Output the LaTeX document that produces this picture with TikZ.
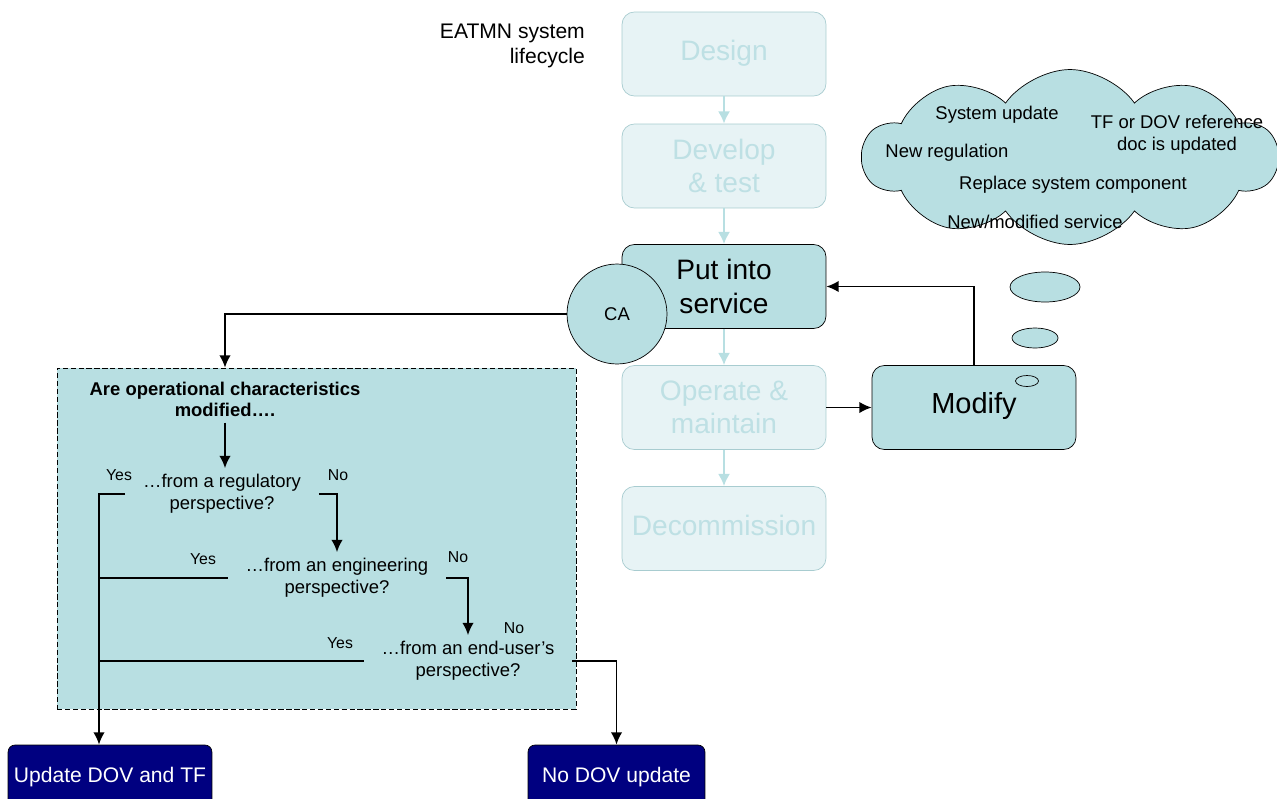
\documentclass[tikz,border=0pt]{standalone}
\usepackage{fontspec}
\setmainfont{Liberation Sans}
\usepackage{tikz}
\usetikzlibrary{shapes.geometric, arrows.meta, shapes.symbols}
\tikzstyle{phase}=[rectangle, rounded corners=7pt, draw=fadeline, fill=fadefill, text=fadetext, minimum width=4.08cm, minimum height=1.68cm, align=center, font=\fontsize{16}{19}\selectfont]
\tikzset{
  current/.style={
    phase,
    draw=black,
    fill=lightteal,
    text=black},
  outcome/.style={
    rectangle,
    rounded corners=4pt,
    draw=black,
    fill=navyblue,
    text=white,
    minimum height=1.3cm,
    font=\fontsize{12}{14}\selectfont},
  question/.style={
    align=center,
    inner xsep=10pt,
    font=\fontsize{10.5}{12.5}\selectfont},
  answer/.style={
    inner sep=1pt,
    font=\fontsize{9}{10}\selectfont},
  bubble/.style={
    ellipse,
    draw,
    fill=lightteal,
    inner sep=0pt},
  cloudtext/.style={
    align=center,
    font=\fontsize{10.5}{12.5}\selectfont},
  flow/.style={line width=1.1pt, -{Latex[length=7pt, width=6.5pt]}},
  fadeflow/.style={line width=1.4pt, draw=lightteal, -{Latex[length=7pt, width=7pt]}}
}

\begin{document}
\begin{tikzpicture}[x=0.02cm, y=-0.02cm]
  \definecolor{lightteal}{RGB}{184, 223, 226}
  \definecolor{fadefill}{RGB}{231, 243, 245}
  \definecolor{fadeline}{RGB}{168, 204, 208}
  \definecolor{fadetext}{RGB}{190, 224, 228}
  \definecolor{navyblue}{RGB}{0, 0, 128}

  \useasboundingbox (0,0) rectangle (1277,798);

  % Lifecycle column
  \node (title) [anchor=east, align=right, font=\fontsize{12}{14.7}\selectfont] at (591,46) {EATMN system\\lifecycle};
  \node (design) [phase] at (724,54) {\strut Design};
  \node (develop) [phase] at (724,166) {Develop\\\& test};
  \node (put) [current] at (724,286.5) {Put into\\service};
  \node (operate) [phase] at (724,407.5) {Operate \&\\maintain};
  \node (decom) [phase] at (724,528.5) {\strut Decommission};

  \draw[fadeflow] (design) -- (develop);
  \draw[fadeflow] (develop) -- (put);
  \draw[fadeflow] (put) -- (operate);
  \draw[fadeflow] (operate) -- (decom);

  % CA
  \node (ca) [circle, draw, fill=lightteal, minimum size=2cm, inner sep=0pt, font=\fontsize{10.5}{12}\selectfont] at (617,314) {CA};

  % Modify loop
  \node (modify) [current, font=\fontsize{16.5}{18}\selectfont] at (974,407.5) {\strut Modify};
  \draw[flow] (operate) -- (modify);
  \draw[flow] (modify.north) |- (put.east);

  % Triggers
  \node (cloud) [cloud, cloud puffs=10, cloud puff arc=110, draw, fill=lightteal, minimum width=8.3cm, minimum height=3.5cm] at (1070,157) {};
  \node (bub1) [bubble, minimum width=1.4cm, minimum height=0.6cm] at (1045,287) {};
  \node (bub2) [bubble, minimum width=0.92cm, minimum height=0.4cm] at (1035,338) {};
  \node (bub3) [bubble, minimum width=0.46cm, minimum height=0.22cm] at (1027,381) {};
  \node (t1) [cloudtext] at (997,115) {System update};
  \node (t2) [cloudtext] at (1177,135) {TF or DOV reference\\doc is updated};
  \node (t3) [cloudtext] at (947,153) {New regulation};
  \node (t4) [cloudtext] at (1073,185) {Replace system component};
  \node (t5) [cloudtext] at (1035,222) {New/modified service};

  % Decision box
  \node (box) [rectangle, draw, dash pattern=on 3pt off 1.5pt, fill=lightteal, minimum width=10.38cm, minimum height=6.82cm] at (316.5,538.5) {};
  \node (qhead) [align=center, font=\bfseries\fontsize{10.5}{12}\selectfont] at (225,399) {Are operational characteristics\\modified\dots.};
  \node (qreg) [question] at (222,494) {\dots from a regulatory\\perspective?};
  \node (qeng) [question] at (337,578) {\dots from an engineering\\perspective?};
  \node (qusr) [question] at (468,661) {\dots from an end-user's\\perspective?};

  \node (yes1) [answer] at (119,475) {Yes};
  \node (yes2) [answer] at (203,559) {Yes};
  \node (yes3) [answer] at (340,643) {Yes};
  \node (no1) [answer] at (338,475) {No};
  \node (no2) [answer] at (458,557) {No};
  \node (no3) [answer] at (514,628) {No};

  % Outcomes
  \node (upd) [outcome, minimum width=4cm] at (110,777.5) {Update DOV and TF};
  \node (noupd) [outcome, minimum width=3.54cm] at (616.5,777.5) {No DOV update};

  \draw[flow] (ca.west) -| (qhead.north |- box.north);
  \draw[flow] (qhead.south) -- (qhead.south |- qreg.north);

  % Yes branches
  \coordinate (trunk) at (99,494);
  \draw[flow] (qreg.west) -- (trunk) -- (trunk |- upd.north);
  \draw[line width=1.1pt] (qeng.west) -- (qeng.west -| trunk);
  \draw[line width=1.1pt] (qusr.west) -- (qusr.west -| trunk);

  % No branches
  \draw[flow] (qreg.east) -| (qeng.north);
  \draw[flow] (qeng.east) -| (qusr.north);
  \draw[flow] (qusr.east) -| (noupd.north);
\end{tikzpicture}
\end{document}
